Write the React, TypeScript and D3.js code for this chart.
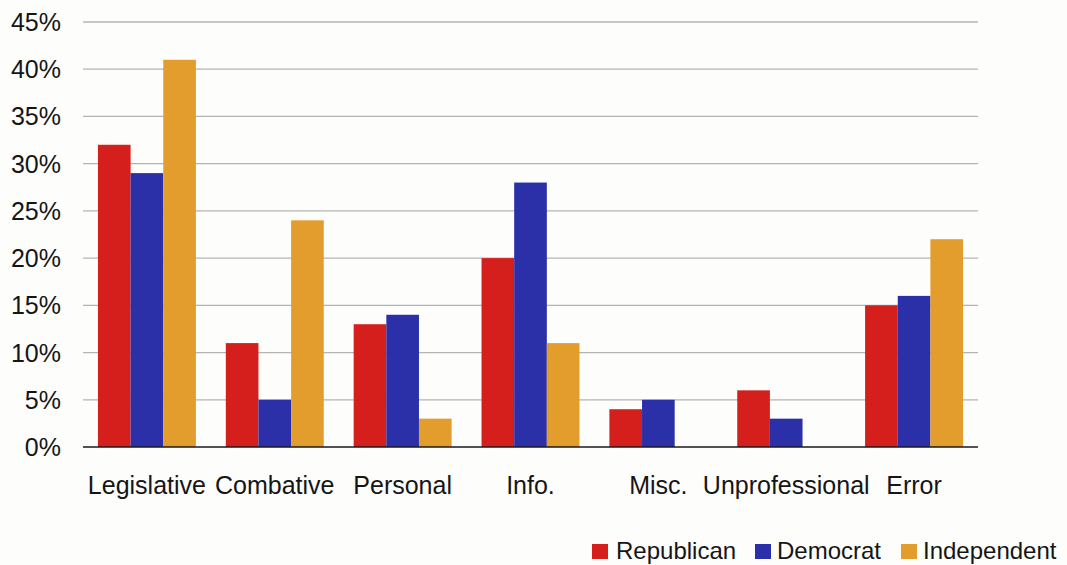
import React from "react";
import * as d3 from "d3";

const categories = ["Legislative", "Combative", "Personal", "Info.", "Misc.", "Unprofessional", "Error"];
const seriesNames = ["Republican", "Democrat", "Independent"];
const republican = [32, 11, 13, 20, 4, 6, 15];
const democrat = [29, 5, 14, 28, 5, 3, 16];
const independent = [41, 24, 3, 11, 0, 0, 22];
const yTicks = [0, 5, 10, 15, 20, 25, 30, 35, 40, 45];
const colors = ["#d41f1c", "#2b30a8", "#e29d2c"];

const W = 1067;
const H = 565;
const left = 83;
const right = 978;
const top = 22;
const bottom = 447;

export default function App() {
  const seriesValues = [republican, democrat, independent];
  const x0 = d3.scaleBand<string>().domain(categories).range([left, right]).paddingInner(0.234).paddingOuter(0.117);
  const x1 = d3.scaleBand<string>().domain(seriesNames).range([0, x0.bandwidth()]).padding(0);
  const y = d3.scaleLinear().domain([0, 45]).range([bottom, top]);
  const font = "'Liberation Sans', Arial, sans-serif";

  const legendItems = [
    { name: "Republican", sq: 592, tx: 616 },
    { name: "Democrat", sq: 755, tx: 777 },
    { name: "Independent", sq: 901, tx: 923 },
  ];

  return (
    <svg width={W} height={H} style={{ position: "absolute", left: 0, top: 0, background: "#fdfdfc" }} fontFamily={font}>
      {yTicks.map((t) => (
        <g key={t}>
          {t > 0 && <line x1={left} x2={right} y1={y(t)} y2={y(t)} stroke="#b4b4b4" strokeWidth={1.3} />}
          <text x={61} y={y(t) + 9} textAnchor="end" fontSize={25} fill="#151515">{`${t}%`}</text>
        </g>
      ))}
      {categories.map((c, i) => (
        <g key={c}>
          {seriesNames.map((s, j) => {
            const v = seriesValues[j][i];
            if (v <= 0) return null;
            return (
              <rect key={s} x={(x0(c) as number) + (x1(s) as number)} y={y(v)} width={x1.bandwidth()} height={y(0) - y(v)} fill={colors[j]} />
            );
          })}
          <text x={(x0(c) as number) + x0.bandwidth() / 2} y={494} textAnchor="middle" fontSize={25} fill="#151515">{c}</text>
        </g>
      ))}
      <line x1={left} x2={right} y1={y(0)} y2={y(0)} stroke="#1a1a1a" strokeWidth={1.6} />
      {legendItems.map((l, j) => (
        <g key={l.name}>
          <rect x={l.sq} y={544} width={16} height={15} fill={colors[j]} />
          <text x={l.tx} y={559} fontSize={24} fill="#151515">{l.name}</text>
        </g>
      ))}
    </svg>
  );
}
